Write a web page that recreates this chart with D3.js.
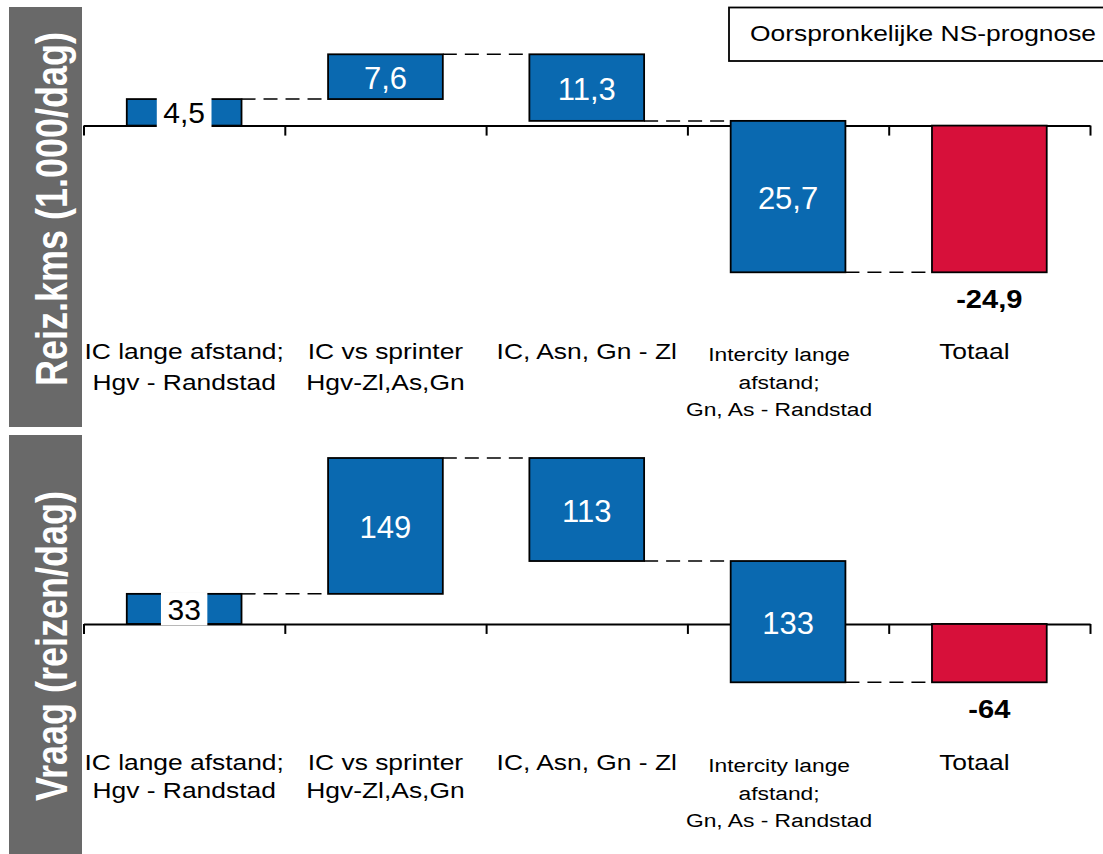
<!DOCTYPE html>
<html>
<head>
<meta charset="utf-8">
<script src="https://cdn.jsdelivr.net/npm/d3@7"></script>
<style>
  html, body { margin: 0; padding: 0; background: #fff; }
  svg { display: block; font-family: "Liberation Sans", Arial, Helvetica, sans-serif; }
</style>
</head>
<body>
<svg id="chart" width="1103" height="854"></svg>
<script>
// ---------------- DATA ----------------
const categories = ["IC lange afstand", "IC vs sprinter", "IC, Asn, Gn - Zl", "Intercity lange afstand", "Totaal"];
const categoryLabelLines = [
  ["IC lange afstand;", "Hgv - Randstad"],
  ["IC vs sprinter", "Hgv-Zl,As,Gn"],
  ["IC, Asn, Gn - Zl"],
  ["Intercity lange", "afstand;", "Gn, As - Randstad"],
  ["Totaal"]
];
const reizKmsDeltas = [4.5, 7.6, -11.3, -25.7];
const reizKmsTotal = -24.9;
const vraagDeltas = [33, 149, -113, -133];
const vraagTotal = -64;
const panelTitles = ["Reiz.kms (1.000/dag)", "Vraag (reizen/dag)"];
const legendLabel = "Oorspronkelijke NS-prognose";

// ---------------- STYLE / LAYOUT ----------------
const BLUE = "#0a69b0", RED = "#d7103a", GREY = "#696969";
const SX = 1.2; // horizontal stretch of the source typography
const nl = d3.formatLocale({decimal: ",", thousands: ".", grouping: [3], currency: ["€", ""]});
const fmt = v => {
  const s = Number.isInteger(v) ? String(v) : nl.format(".1f")(v);
  return s.replace("−", "-");
};

const svg = d3.select("#chart");

const x = d3.scaleBand().domain(categories).range([83.5, 1090])
  .paddingInner(0.43).paddingOuter(0.215);
const xEdge = d3.scaleLinear().domain([0, categories.length]).range([83.5, 1090]);
const labelShift = [0, 0, 0, -9, -15];

function sText(g, px, py, str, o) {
  return g.append("text")
    .attr("transform", `translate(${px},${py}) scale(${o.sx || 1},1)`)
    .attr("text-anchor", o.anchor || "middle")
    .attr("font-size", o.size)
    .attr("font-weight", o.weight || "normal")
    .attr("fill", o.fill || "#000")
    .text(str);
}

function drawPanel(cfg) {
  const g = svg.append("g");
  const cum = [0];
  cfg.deltas.forEach(d => cum.push(cum[cum.length - 1] + d));
  const lo = Math.min(d3.min(cum), cfg.total, 0);
  const hi = Math.max(d3.max(cum), cfg.total, 0);
  const y = d3.scaleLinear().domain([lo, hi]).range(cfg.yRange);

  // grey title box
  g.append("rect").attr("x", 9).attr("y", cfg.box[0]).attr("width", 73)
    .attr("height", cfg.box[1] - cfg.box[0]).attr("fill", GREY);
  g.append("text")
    .attr("transform", `translate(67,${cfg.titleCy}) scale(1.25,1) rotate(-90)`)
    .attr("text-anchor", "middle").attr("font-size", 36).attr("font-weight", "bold")
    .attr("fill", "#fff").text(cfg.title);

  // axis
  const axis = d3.axisBottom(xEdge).tickValues(d3.range(categories.length + 1))
    .tickSize(10).tickSizeOuter(0).tickFormat("");
  const ag = g.append("g").attr("transform", `translate(0,${y(0)})`).call(axis);
  ag.select(".domain").attr("stroke", "#000").attr("stroke-width", 2);
  ag.selectAll(".tick line").attr("stroke", "#000").attr("stroke-width", 2);

  // connectors
  const conn = d3.range(cfg.deltas.length).map(i => ({
    x1: x(categories[i]) + x.bandwidth(),
    x2: x(categories[i + 1]),
    v: cum[i + 1]
  }));
  g.selectAll("line.conn").data(conn).join("line").attr("class", "conn")
    .attr("x1", d => d.x1).attr("x2", d => d.x2)
    .attr("y1", d => y(d.v)).attr("y2", d => y(d.v))
    .attr("stroke", "#000").attr("stroke-width", 1.5).attr("stroke-dasharray", "14,8");

  // bars
  const bars = cfg.deltas.map((d, i) => ({cat: categories[i], a: cum[i], b: cum[i + 1], val: d, fill: BLUE}));
  bars.push({cat: categories[categories.length - 1], a: 0, b: cfg.total, val: cfg.total, fill: RED, total: true});
  g.selectAll("rect.bar").data(bars).join("rect").attr("class", "bar")
    .attr("x", d => x(d.cat)).attr("width", x.bandwidth())
    .attr("y", d => y(Math.max(d.a, d.b)))
    .attr("height", d => Math.abs(y(d.a) - y(d.b)))
    .attr("fill", d => d.fill).attr("stroke", "#000").attr("stroke-width", 1.8);

  // value labels
  bars.forEach(d => {
    const cx = x(d.cat) + x.bandwidth() / 2;
    const top = y(Math.max(d.a, d.b)), bot = y(Math.min(d.a, d.b));
    if (d.total) {
      sText(g, cx, bot + 36, fmt(d.val), {size: 26, weight: "bold", sx: 1.12});
    } else if (bot - top < 36) {
      const t = sText(g, cx, (top + bot) / 2 + 11, fmt(Math.abs(d.val)), {size: 30});
      const w = t.node().getBBox().width + 13;
      g.insert("rect", () => t.node()).attr("x", cx - w / 2).attr("width", w)
        .attr("y", top - 1.5).attr("height", bot - top + 3).attr("fill", "#fff");
    } else {
      sText(g, cx, (top + bot) / 2 + 12.5, fmt(Math.abs(d.val)), {size: 31, fill: "#fff"});
    }
  });

  // category labels
  categoryLabelLines.forEach((lines, i) => {
    const cx = x(categories[i]) + x.bandwidth() / 2 + labelShift[i];
    const small = lines.length > 2;
    lines.forEach((ln, j) => {
      sText(g, cx, cfg.labelY + (small ? 2 : 0) + j * (small ? 27.5 : cfg.lineGap), ln,
        {size: small ? 19 : 22, sx: SX});
    });
  });
}

drawPanel({deltas: reizKmsDeltas, total: reizKmsTotal, yRange: [272.3, 54.3],
  box: [7, 427], title: panelTitles[0], titleCy: 209, labelY: 359, lineGap: 31});
drawPanel({deltas: vraagDeltas, total: vraagTotal, yRange: [682.3, 458],
  box: [435, 854], title: panelTitles[1], titleCy: 646, labelY: 770, lineGap: 28});

// legend box
svg.append("rect").attr("x", 729).attr("y", 7.5).attr("width", 380).attr("height", 53.5)
  .attr("fill", "#fff").attr("stroke", "#000").attr("stroke-width", 1.8);
sText(svg, 750, 41, legendLabel, {size: 22, sx: SX, anchor: "start"});
</script>
</body>
</html>
